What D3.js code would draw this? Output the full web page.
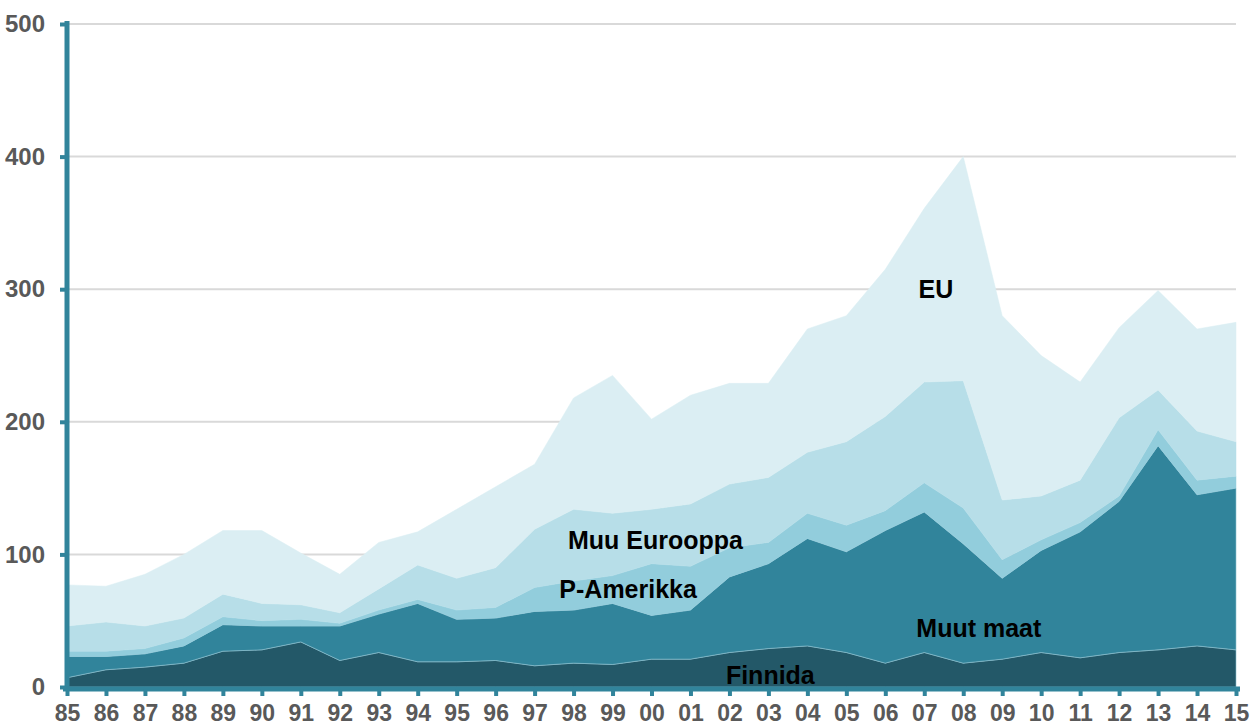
<!DOCTYPE html>
<html>
<head>
<meta charset="utf-8">
<script src="https://cdn.jsdelivr.net/npm/d3@7"></script>
<style>
  body { margin: 0; background: #fff; }
  svg { display: block; }
  .tick text { font-family: "Liberation Sans", Arial, sans-serif; font-weight: bold; font-size: 24px; fill: #595959; }
  .xaxis .tick text { font-size: 23px; }
</style>
</head>
<body>
<script>
// Size
var w = 1260;
var h = 728;

// Data
var years = ["85","86","87","88","89","90","91","92","93","94","95","96","97","98","99",
             "00","01","02","03","04","05","06","07","08","09","10","11","12","13","14","15"];
var finnida     = [7,13,15,18,27,28,34,20,26,19,19,20,16,18,17,21,21,26,29,31,26,18,26,18,21,26,22,26,28,31,28];
var muutMaat    = [16,10,10,13,20,18,12,26,29,44,32,32,41,40,46,33,37,57,64,81,76,100,106,90,61,77,95,114,154,114,122];
var pAmerikka   = [4,4,4,6,6,4,5,2,3,3,7,8,18,22,21,39,33,22,16,19,20,15,22,27,14,8,7,4,12,11,9];
var muuEurooppa = [19,22,17,15,17,13,11,8,16,26,24,30,44,54,47,41,47,48,49,46,63,71,76,96,45,33,32,59,30,37,26];
var eu          = [31,27,39,48,48,55,39,29,35,25,52,61,49,84,104,68,82,76,71,93,95,111,131,169,139,106,74,68,75,77,90];
var seriesNames = ["Finnida", "Muut maat", "P-Amerikka", "Muu Eurooppa", "EU"];
var yTicks = [0, 100, 200, 300, 400, 500];

var colors = ["#235868", "#31849B", "#92CDDC", "#B7DEE8", "#DBEEF3"];

// Build table for the stack
var table = years.map(function(y, i) {
  return { year: y, "Finnida": finnida[i], "Muut maat": muutMaat[i], "P-Amerikka": pAmerikka[i],
           "Muu Eurooppa": muuEurooppa[i], "EU": eu[i] };
});
var stacked = d3.stack().keys(seriesNames)(table);

var x = d3.scalePoint().domain(years).range([67, 1236]);
var y = d3.scaleLinear().domain([0, 500]).range([687, 24]);

var svg = d3.select("body").append("svg")
            .attr("width", w)
            .attr("height", h);

// Gridlines
svg.selectAll("line.grid")
   .data(yTicks.slice(1))
   .enter()
   .append("line")
   .attr("class", "grid")
   .attr("x1", 67).attr("x2", 1236)
   .attr("y1", function(d) { return y(d); })
   .attr("y2", function(d) { return y(d); })
   .attr("stroke", "#d9d9d9")
   .attr("stroke-width", 2);

// Areas
var area = d3.area()
  .x(function(d) { return x(d.data.year); })
  .y0(function(d) { return y(d[0]); })
  .y1(function(d) { return y(d[1]); });

svg.selectAll("path.layer")
   .data(stacked)
   .enter()
   .append("path")
   .attr("class", "layer")
   .attr("d", area)
   .attr("fill", function(d, i) { return colors[i]; })
   .attr("stroke", function(d, i) { return i < 2 ? "#8fc3d1" : colors[i]; })
   .attr("stroke-width", function(d, i) { return i < 2 ? 0.6 : 0.5; });

// Y axis
var yAxis = svg.append("g")
   .attr("transform", "translate(67,0)")
   .call(d3.axisLeft(y).tickValues(yTicks).tickSize(7).tickPadding(15).tickSizeOuter(0));
yAxis.select(".domain").attr("stroke", "#31849B").attr("stroke-width", 5)
     .attr("d", "M0,21V691");
yAxis.selectAll(".tick line").attr("stroke", "#31849B").attr("stroke-width", 4);

// X axis
var xAxis = svg.append("g")
   .attr("class", "xaxis")
   .attr("transform", "translate(0,689)")
   .call(d3.axisBottom(x).tickSize(7).tickPadding(9).tickSizeOuter(0));
xAxis.select(".domain").attr("stroke", "#31849B").attr("stroke-width", 5)
     .attr("d", "M63,0H1240");
xAxis.selectAll(".tick line").attr("stroke", "#31849B").attr("stroke-width", 4);

// Series labels
var labels = [
  { text: "EU",           year: 22.3, value: 293 },
  { text: "Muu Eurooppa", year: 15.1, value: 104 },
  { text: "P-Amerikka",   year: 14.4, value: 67 },
  { text: "Muut maat",    year: 23.4, value: 37.5 },
  { text: "Finnida",      year: 18.05, value: 2.5 }
];
var xi = d3.scaleLinear().domain([0, years.length - 1]).range([67, 1236]);

svg.selectAll("text.lbl")
   .data(labels)
   .enter()
   .append("text")
   .attr("class", "lbl")
   .text(function(d) { return d.text; })
   .attr("x", function(d) { return xi(d.year); })
   .attr("y", function(d) { return y(d.value); })
   .attr("text-anchor", "middle")
   .attr("font-family", "Liberation Sans, Arial, sans-serif")
   .attr("font-weight", "bold")
   .attr("font-size", "25px")
   .attr("fill", "#000");
</script>
</body>
</html>
